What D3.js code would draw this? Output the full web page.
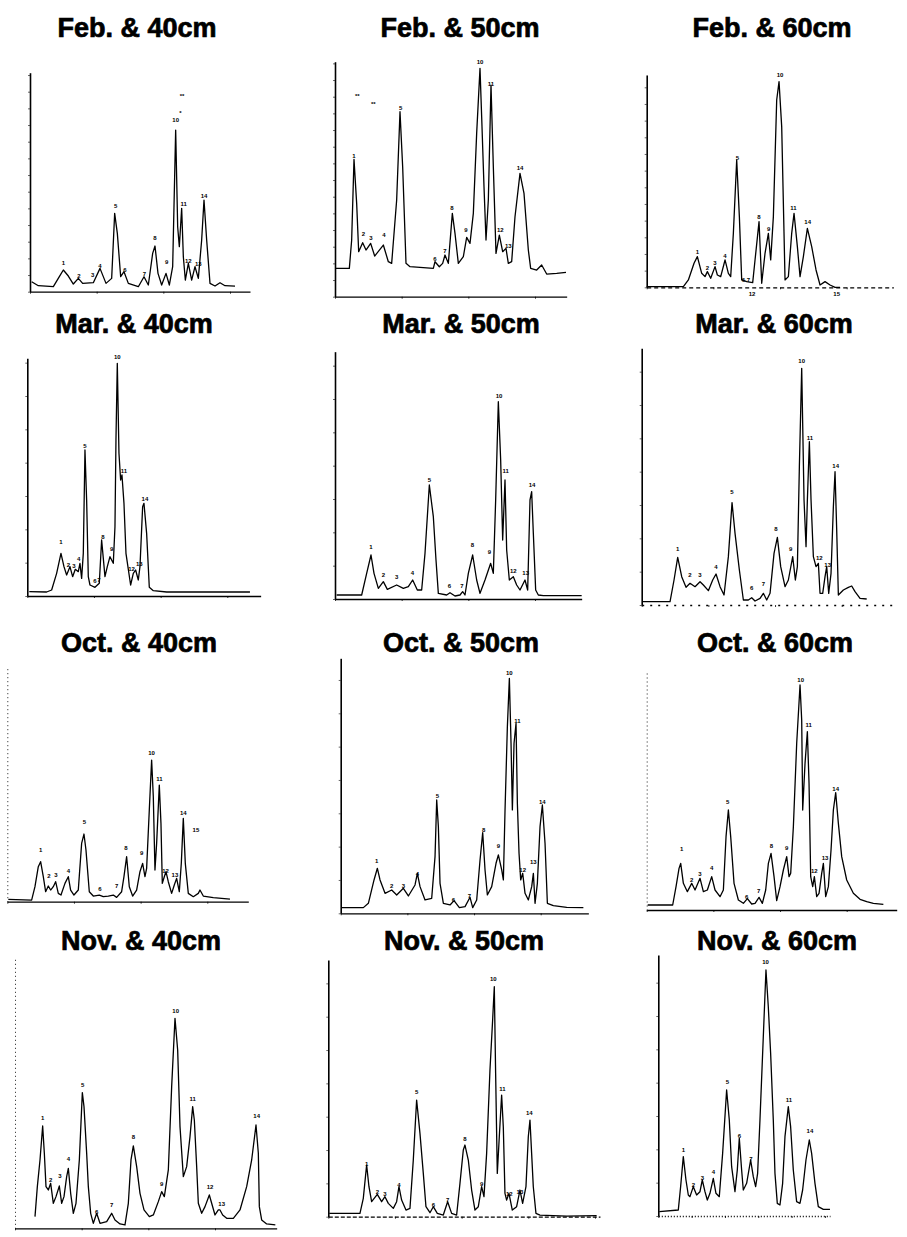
<!DOCTYPE html>
<html>
<head>
<meta charset="utf-8">
<script src="https://cdn.jsdelivr.net/npm/d3@7"></script>
<style>
  body { margin: 0; background: #fff; }
  .title { font-family: "Liberation Sans", Arial, sans-serif; font-weight: bold; font-size: 27px; fill: #000; stroke: #000; stroke-width: 0.7px; }
  .peak { font-family: "Liberation Sans", Arial, sans-serif; font-weight: bold; font-size: 6px; fill: #000; }
</style>
</head>
<body>
<div id="container"></div>
<script>
/* CONSTANTS AND GLOBALS */
const width = 907, height = 1237;
const unit = 10 / 3; // px per data unit, same for every panel

/* DATA : [retention time, signal] */
const months = ["Feb.", "Mar.", "Oct.", "Nov."];
const depths = ["40cm", "50cm", "60cm"];

// x max / y max of each panel's axes
const xMax = [66, 69.5, 74, 70, 74, 76, 72.3, 74.3, 75, 78.5, 81.5, 51.5];
const yMax = [65.7, 70.5, 63.7, 71.3, 74.2, 77, 70.5, 76.5, 72, 81, 77, 78.3];

const feb40 = [[0.5,3.0],[2.5,1.8],[7.0,1.5],[8.8,4.5],[10.0,6.5],[11.5,4.7],[13.0,2.3],[14.5,4.0],[15.8,2.5],[19.0,2.7],[21.0,7.0],[22.8,2.5],[24.5,4.0],[25.4,23.5],[26.2,17.5],[27.2,4.5],[28.2,6.0],[29.5,2.5],[32.5,1.5],[34.2,4.5],[35.5,2.0],[36.8,11.5],[37.5,13.7],[38.4,5.5],[39.5,2.0],[40.8,5.5],[41.8,2.0],[42.8,7.5],[43.7,48.5],[44.3,19.5],[44.8,13.5],[45.5,25.0],[46.0,10.5],[46.6,3.5],[47.5,8.5],[48.5,3.5],[49.5,7.5],[50.5,4.0],[51.5,15.5],[52.2,27.5],[53.0,15.5],[54.0,2.5],[55.5,1.7],[57.0,2.7],[58.5,1.8],[61.5,1.7]];
const feb40Peaks = [["1",10.0,8.5],["2",14.7,4.7],["3",18.8,4.9],["4",21.0,7.5],["5",25.7,25.5],["6",28.5,6.5],["7",34.3,5.3],["8",37.5,15.9],["9",41.0,8.7],["10",43.7,51.5],["*",45.1,53.5],["**",45.6,58.5],["11",46.1,26.3],["12",47.5,9.2],["13",50.5,8.2],["14",52.2,28.5]];

const feb50 = [[0,8.5],[4.3,8.5],[5.0,17.0],[5.7,41.2],[6.5,28.0],[7.1,13.5],[8.3,16.2],[9.3,14.0],[10.7,16.0],[11.9,12.2],[14.5,15.5],[16.0,10.5],[17.0,10.0],[18.5,29.0],[19.5,55.5],[20.3,39.0],[21.3,10.0],[22.5,9.0],[26.5,8.7],[29.5,8.5],[30.0,10.5],[31.3,9.0],[32.3,10.0],[33.0,12.5],[34.0,10.0],[35.2,25.0],[36.0,19.0],[37.0,10.0],[38.5,12.0],[39.5,17.8],[40.5,16.0],[41.5,25.0],[42.5,49.0],[43.5,68.5],[44.0,54.0],[44.7,33.0],[45.3,17.0],[46.0,29.0],[46.8,63.5],[47.5,39.0],[48.3,13.0],[49.3,18.5],[50.3,13.5],[51.3,14.5],[52.0,10.0],[53.0,10.5],[54.0,24.0],[55.5,37.0],[56.7,31.0],[58.0,14.0],[58.7,8.5],[60.5,8.0],[62.0,9.5],[63.5,6.8],[66.5,7.0],[69.3,7.3]];
const feb50Peaks = [["1",5.7,42.0],["2",8.5,18.7],["3",10.8,17.5],["4",14.7,18.4],["5",19.7,56.4],["6",30.0,11.2],["7",33.0,13.5],["8",35.1,26.4],["9",39.3,20.0],["10",43.5,70.3],["11",46.8,63.8],["12",49.6,20.0],["13",52.0,15.0],["14",55.5,38.5],["**",6.7,60.0],["**",11.5,57.7]];

const feb60 = [[0,0.2],[11.0,0.2],[12.5,2.2],[14.2,7.2],[15.2,9.2],[16.5,4.2],[17.5,3.2],[18.2,4.7],[19.2,2.7],[20.5,6.2],[21.2,3.7],[22.2,3.2],[23.5,8.2],[24.5,4.2],[25.2,3.2],[26.0,16.2],[27.0,38.2],[27.8,21.2],[28.5,2.2],[30.0,1.7],[31.8,1.4],[32.5,8.2],[33.7,19.7],[34.5,1.2],[35.5,10.2],[36.5,16.2],[37.2,8.2],[38.0,21.2],[39.0,56.2],[39.7,61.7],[40.5,48.2],[41.5,2.2],[42.5,3.2],[43.5,16.2],[44.2,22.2],[45.2,12.2],[46.0,3.2],[47.0,9.2],[48.2,17.7],[49.5,12.2],[50.8,5.2],[52.0,0.7],[53.5,1.7],[55.0,0.7],[56.5,0],[58.0,0]];
const feb60Peaks = [["1",15.2,10.5],["2",18.2,5.7],["3",20.5,7.2],["4",23.5,9.4],["5",27.2,38.7],["6",29.0,2.0],["7",30.5,2.0],["8",33.7,21.0],["9",36.6,17.4],["10",40.0,63.5],["11",44.0,23.7],["14",48.3,19.4],["12",31.6,-2.0],["15",57.0,-2.0]];

const mar40 = [[0.6,1.3],[5.8,1.2],[7.3,1.8],[8.8,6.8],[10.1,12.8],[11.0,8.8],[11.8,6.3],[12.8,8.8],[13.6,5.8],[14.4,8.0],[15.3,7.3],[15.8,9.8],[16.3,5.3],[16.8,12.8],[17.3,43.8],[17.8,28.8],[18.3,5.8],[18.8,3.3],[20.3,2.6],[21.6,3.8],[22.3,16.8],[23.3,5.8],[24.0,8.8],[24.8,11.8],[25.8,9.8],[26.3,20.8],[26.6,46.8],[27.0,69.8],[27.5,42.8],[28.0,34.8],[28.4,36.3],[29.0,27.8],[29.6,12.8],[31.0,3.3],[31.8,6.8],[32.5,7.8],[33.3,4.8],[33.8,8.8],[34.6,26.8],[35.0,27.8],[35.8,18.8],[36.6,2.6],[37.8,1.6],[41.8,1.2],[66.8,1.2]];
const mar40Peaks = [["1",10.1,16.0],["2",12.3,9.1],["3",14.0,9.0],["4",15.4,11.0],["5",17.3,44.8],["6",20.3,4.3],["7",21.5,4.8],["8",22.7,17.6],["9",25.3,14.1],["10",27.0,71.6],["11",29.0,37.5],["12",31.3,8.0],["13",33.6,9.4],["14",35.3,29.0]];

const mar50 = [[0.5,1.2],[8.0,1.2],[9.5,7.7],[10.8,13.2],[11.7,7.7],[13.0,3.2],[14.5,5.2],[15.7,2.9],[18.5,4.2],[20.5,3.2],[22.0,3.7],[23.3,5.7],[24.7,2.7],[26.0,2.7],[27.0,13.7],[28.3,34.2],[29.5,24.7],[30.3,11.7],[31.0,1.7],[33.5,1.2],[34.5,1.9],[36.0,0.9],[37.5,1.2],[38.3,2.2],[39.0,1.2],[40.0,7.7],[41.3,13.2],[42.5,5.7],[43.5,1.7],[45.0,5.7],[46.7,10.7],[47.5,7.7],[48.2,29.7],[49.0,59.2],[49.7,41.7],[50.3,17.7],[51.0,35.7],[51.5,14.7],[52.3,5.7],[53.5,6.7],[54.5,4.2],[55.5,2.7],[57.0,5.7],[57.8,2.7],[58.5,29.7],[59.0,32.2],[59.5,19.7],[60.2,2.7],[61.0,1.2],[62.5,1.0],[74.0,1.0]];
const mar50Peaks = [["1",10.8,15.5],["2",14.5,7.2],["3",18.5,6.4],["4",23.2,7.7],["5",28.3,35.7],["6",34.3,3.9],["7",38.1,3.7],["8",41.2,16.2],["9",46.3,14.0],["10",49.2,60.7],["11",51.2,38.2],["12",53.5,8.2],["13",57.2,7.7],["14",59.1,34.0]];

const mar60 = [[0.3,1.0],[8.5,1.0],[9.7,7.5],[10.8,14.3],[12.0,8.5],[13.3,5.3],[14.5,6.5],[16.0,5.5],[17.5,7.0],[18.5,6.0],[20.0,4.3],[21.3,7.5],[22.3,9.3],[23.5,5.5],[24.7,3.0],[26.0,14.5],[27.1,30.7],[28.0,21.5],[29.3,10.5],[30.5,1.5],[32.0,1.5],[33.0,2.2],[34.0,1.2],[35.5,2.0],[36.5,3.5],[37.5,1.5],[38.5,3.5],[39.7,15.5],[40.7,20.3],[41.7,11.5],[43.0,5.5],[44.0,7.5],[45.3,14.5],[46.1,7.5],[46.7,11.5],[47.3,41.5],[48.0,71.0],[48.7,31.5],[49.3,17.5],[49.7,31.5],[50.3,49.0],[50.8,31.5],[51.5,14.5],[52.3,11.5],[53.0,12.5],[53.5,3.5],[54.3,3.5],[55.0,8.5],[55.5,11.5],[56.1,3.5],[56.8,9.5],[57.5,29.5],[58.0,40.0],[58.5,22.5],[59.0,3.0],[60.5,4.5],[62.0,5.3],[63.0,5.7],[64.0,4.0],[65.5,2.0],[67.5,1.8]];
const mar60Peaks = [["1",10.8,16.7],["2",14.5,8.9],["3",17.5,8.9],["4",22.3,11.2],["5",27.1,33.7],["6",33.0,5.0],["7",36.5,6.3],["8",40.3,22.7],["9",44.7,16.7],["10",48.0,73.0],["11",50.5,50.1],["12",53.3,14.0],["13",55.8,12.0],["14",58.2,41.5]];

const oct40 = [[0.3,0.7],[7.3,0.5],[8.3,4.5],[9.3,10.5],[10.0,12.0],[10.8,7.5],[11.5,3.0],[12.3,4.7],[13.0,3.5],[13.8,4.5],[14.5,6.0],[15.3,2.5],[16.1,2.0],[17.3,5.5],[18.3,7.5],[19.0,3.5],[20.0,2.0],[21.3,3.5],[22.3,17.5],[23.0,20.3],[23.6,15.5],[24.6,3.0],[25.8,1.7],[27.6,2.0],[28.8,1.5],[30.3,1.7],[31.8,2.0],[32.8,1.3],[34.3,3.0],[35.0,7.5],[35.8,13.5],[36.6,4.5],[37.6,1.7],[38.8,3.5],[39.8,9.0],[40.6,11.5],[41.3,7.5],[41.8,10.0],[42.6,27.5],[43.3,42.5],[43.8,31.5],[44.3,9.5],[44.8,17.5],[45.6,35.0],[46.1,23.5],[46.5,5.5],[47.1,7.5],[47.6,9.0],[48.3,6.0],[49.3,2.5],[50.1,5.0],[50.8,7.0],[51.6,3.0],[52.2,11.5],[52.8,25.0],[53.4,11.5],[54.3,2.5],[55.8,1.5],[57.3,2.5],[57.8,3.5],[58.8,1.7],[61.8,1.2],[66.8,0.8]];
const oct40Peaks = [["1",10.0,15.3],["2",12.5,7.5],["3",14.6,8.0],["4",18.3,9.2],["5",23.1,23.7],["6",27.8,3.7],["7",32.8,4.5],["8",35.6,16.0],["9",40.3,14.5],["10",43.3,44.5],["11",45.6,36.7],["12",47.5,9.2],["13",50.3,8.0],["14",52.8,26.5],["15",56.6,21.3]];

const oct50 = [[0.3,1.7],[6.8,1.7],[8.3,3.0],[10.0,10.0],[11.0,13.5],[11.8,10.0],[13.3,6.0],[15.3,7.0],[16.8,5.5],[18.8,7.5],[20.3,5.2],[22.3,8.5],[23.0,12.0],[23.8,8.0],[25.3,4.0],[27.3,4.5],[28.3,17.0],[28.8,34.0],[29.3,26.0],[29.8,9.0],[30.8,3.0],[32.8,2.5],[34.0,3.8],[35.6,1.7],[37.3,2.0],[38.8,4.8],[39.6,1.7],[40.8,4.0],[41.8,16.0],[42.6,24.2],[43.3,13.0],[44.0,5.5],[45.3,8.0],[46.6,15.0],[47.3,17.5],[48.3,13.0],[48.8,10.0],[49.3,31.0],[50.0,56.0],[50.6,70.5],[51.1,51.0],[51.5,31.0],[52.0,51.0],[52.6,57.0],[53.0,33.0],[53.5,18.0],[54.0,10.0],[54.6,12.0],[55.3,6.0],[56.3,4.0],[57.3,8.0],[57.8,12.0],[58.3,3.0],[59.0,9.0],[59.8,26.0],[60.5,32.5],[61.3,21.0],[62.0,3.0],[63.8,2.3],[67.8,1.8],[72.8,1.7]];
const oct50Peaks = [["1",10.8,15.5],["2",15.3,8.2],["3",18.8,8.2],["4",23.0,11.8],["5",29.0,35.0],["6",33.8,3.8],["7",38.6,5.2],["8",42.9,25.0],["9",47.3,20.2],["10",50.6,72.0],["11",53.0,57.7],["12",54.6,13.0],["13",57.8,15.3],["14",60.5,33.3]];

const oct60 = [[0.3,1.5],[7.8,1.5],[8.8,7.0],[9.7,12.5],[10.2,14.0],[11.0,8.0],[12.2,5.5],[13.5,8.0],[14.5,6.0],[16.0,9.5],[17.0,5.5],[18.2,6.0],[19.5,10.0],[20.5,6.0],[22.0,4.0],[23.0,6.0],[23.8,22.0],[24.5,30.0],[25.2,22.0],[26.2,8.0],[27.5,3.0],[29.0,2.0],[30.2,3.4],[31.5,1.8],[32.5,2.0],[33.7,3.8],[34.7,2.0],[35.7,6.0],[36.5,14.0],[37.3,17.0],[38.2,10.0],[39.0,2.8],[40.0,7.0],[41.0,12.0],[42.0,16.0],[42.7,10.0],[43.2,11.0],[44.0,25.0],[45.0,50.0],[46.0,67.5],[46.5,57.0],[46.8,30.0],[47.5,44.0],[48.2,53.5],[48.7,38.0],[49.2,10.0],[49.8,7.0],[50.3,10.0],[51.0,4.0],[51.7,5.0],[52.5,11.0],[53.0,14.0],[53.7,4.0],[54.5,7.0],[55.3,18.0],[56.0,30.0],[56.7,35.2],[57.5,26.0],[58.5,16.0],[60.0,9.0],[62.0,5.0],[64.0,3.2],[66.0,2.5],[68.0,2.0],[71.0,1.7]];
const oct60Peaks = [["1",10.5,18.2],["2",13.5,9.0],["3",16.0,10.7],["4",19.5,12.5],["5",24.3,32.3],["6",30.0,3.8],["7",33.6,5.5],["8",37.4,19.2],["9",42.0,18.4],["10",46.2,68.8],["11",48.6,55.5],["12",50.3,11.5],["13",53.5,15.5],["14",56.7,36.3]];

const nov40 = [[6.0,3.5],[6.7,12.5],[7.5,20.5],[8.3,30.7],[8.8,22.5],[9.3,12.5],[10.0,11.5],[10.7,13.5],[11.5,7.5],[12.3,9.5],[13.3,12.7],[14.0,7.5],[14.7,9.5],[15.5,15.5],[16.0,18.0],[16.7,10.5],[17.5,4.5],[18.3,7.5],[19.3,20.5],[20.2,40.7],[20.7,36.5],[21.5,22.5],[22.0,12.5],[22.7,4.5],[23.5,1.5],[24.5,4.5],[25.5,1.5],[27.5,2.0],[29.0,4.5],[30.0,2.5],[31.5,1.3],[33.0,1.0],[34.0,7.5],[34.8,20.5],[35.5,24.7],[36.5,18.5],[37.5,10.5],[38.7,5.5],[40.3,3.5],[41.5,4.0],[43.0,8.0],[44.0,11.0],[44.8,9.5],[46.0,17.5],[47.0,42.5],[48.0,63.0],[48.8,53.5],[49.5,30.5],[50.5,15.5],[51.5,18.5],[52.5,27.5],[53.3,36.5],[53.8,32.5],[54.5,18.5],[55.0,7.5],[56.0,4.5],[57.0,6.5],[58.3,10.0],[59.0,7.5],[60.0,4.0],[61.0,5.5],[61.5,5.5],[62.3,4.0],[63.5,3.0],[65.5,3.0],[67.5,5.5],[69.5,12.5],[71.0,20.5],[72.3,31.0],[73.0,22.5],[73.3,6.5],[74.0,2.5],[75.5,1.3],[78.1,1.0]];
const nov40Peaks = [["1",8.3,33.0],["2",10.7,14.3],["3",13.5,15.5],["4",16.0,20.7],["5",20.3,43.0],["6",24.5,4.8],["7",29.0,7.0],["8",35.5,27.2],["9",44.0,13.2],["10",48.2,65.0],["11",53.3,38.7],["12",58.5,12.2],["13",62.0,7.3],["14",72.5,33.5]];

const nov50 = [[0.3,1.0],[9.5,1.0],[10.5,5.5],[11.5,15.5],[12.2,9.0],[13.0,4.5],[14.7,6.7],[16.0,4.5],[17.0,6.0],[18.0,4.0],[19.5,2.5],[20.5,4.5],[21.2,9.0],[22.0,5.0],[23.3,2.0],[24.5,2.5],[25.5,17.0],[26.5,35.0],[27.5,25.0],[28.5,13.0],[29.3,3.0],[30.5,1.2],[31.5,3.0],[32.7,1.0],[34.5,0.5],[35.8,4.5],[37.0,1.0],[38.5,0.5],[39.5,10.0],[40.5,20.0],[41.0,21.5],[42.0,17.0],[43.0,8.0],[44.0,2.0],[45.0,3.0],[46.0,9.0],[46.7,6.0],[47.5,19.0],[48.5,44.0],[49.3,59.0],[49.8,69.0],[50.2,43.0],[50.7,13.0],[51.3,24.0],[52.0,36.5],[52.5,27.0],[53.0,7.0],[53.5,5.0],[54.2,7.0],[55.2,2.0],[56.5,3.0],[57.5,8.0],[58.3,4.0],[59.3,9.0],[60.0,24.0],[60.5,29.0],[61.0,19.0],[61.5,9.0],[62.3,1.0],[63.5,0.5],[71.5,0.2],[80.5,0.3]];
const nov50Peaks = [["1",11.5,15.7],["2",14.7,7.3],["3",17.0,6.7],["4",21.2,9.5],["5",26.5,37.3],["6",31.5,3.3],["7",35.8,4.8],["8",41.0,23.3],["9",46.0,9.7],["10",49.5,71.3],["11",52.2,38.3],["12",54.3,6.8],["13",57.5,7.2],["14",60.3,31.0]];

const nov60 = [[0.3,1.3],[6.0,1.8],[6.7,8.8],[7.5,17.8],[8.3,10.8],[9.0,6.3],[9.5,5.8],[10.5,8.8],[11.5,6.3],[12.5,7.3],[13.2,10.8],[14.0,7.3],[14.7,4.8],[15.5,6.8],[16.5,11.3],[17.3,6.8],[18.3,5.8],[19.3,18.8],[20.5,37.8],[21.3,28.8],[22.0,14.8],[23.0,7.3],[23.7,13.8],[24.3,23.3],[25.0,13.8],[25.5,7.8],[26.5,9.8],[27.7,16.8],[28.5,11.8],[29.2,8.8],[29.8,12.8],[30.5,28.8],[31.5,53.8],[32.3,73.8],[33.0,62.8],[33.7,48.8],[34.5,28.8],[35.0,12.8],[35.7,3.8],[36.5,3.3],[37.3,9.8],[38.0,23.8],[39.0,32.8],[39.7,26.8],[40.5,13.8],[41.5,4.3],[42.5,3.8],[43.3,7.8],[44.3,16.8],[45.3,22.8],[46.0,18.8],[47.0,9.8],[48.0,2.8],[49.5,2.0],[51.5,2.0]];
const nov60Peaks = [["1",7.5,19.8],["2",10.5,9.3],["3",13.2,11.3],["4",16.5,13.0],["5",20.7,40.1],["6",24.3,24.0],["7",27.8,17.0],["10",32.2,76.0],["11",39.2,34.8],["14",45.5,25.5]];

const traces = [feb40, feb50, feb60, mar40, mar50, mar60, oct40, oct50, oct60, nov40, nov50, nov60];
const peaks = [feb40Peaks, feb50Peaks, feb60Peaks, mar40Peaks, mar50Peaks, mar60Peaks, oct40Peaks, oct50Peaks, oct60Peaks, nov40Peaks, nov50Peaks, nov60Peaks];

/* LAYOUT : where each panel's origin sits, title centre and axis styles */
const origin = [[30,291.7],[335,296.7],[646.7,287.3],[27.3,596],[335,599],[641.7,605],[7.3,901.7],[340.7,913.3],[646.7,910],[15,1228.3],[328.3,1216.7],[658.3,1216]];
const titleX = [137, 460, 772, 134, 461, 774, 139, 461, 775, 141, 464, 777];
const titleY = [36.5, 333, 651.5, 950];
const yAxisDash = [null, null, null, null, null, null, "1,3", null, "1,3", "1,3", null, null];
const xAxisDash = [null, null, "4,3", null, null, "2,6", null, null, null, null, "4,2", "1,2"];

const svg = d3.select("#container").append("svg")
  .attr("width", width)
  .attr("height", height)
  .style("background-color", "#fff");

const line = d3.line();

traces.forEach((trace, i) => {
  const [ox, oy] = origin[i];
  const xScale = d3.scaleLinear().domain([0, xMax[i]]).range([ox, ox + xMax[i] * unit]);
  const yScale = d3.scaleLinear().domain([0, yMax[i]]).range([oy, oy - yMax[i] * unit]);

  const g = svg.append("g").attr("class", "panel");

  // title
  g.append("text")
    .attr("class", "title")
    .attr("x", titleX[i])
    .attr("y", titleY[Math.floor(i / 3)])
    .attr("text-anchor", "middle")
    .text(months[Math.floor(i / 3)] + " & " + depths[i % 3]);

  // axes
  const xAxis = d3.axisBottom(xScale).ticks(4).tickSize(2).tickSizeOuter(0).tickFormat("");
  const yAxis = d3.axisLeft(yScale).ticks(10).tickSize(2).tickSizeOuter(0).tickFormat("");

  const gx = g.append("g").attr("transform", `translate(0,${oy})`).call(xAxis);
  const gy = g.append("g").attr("transform", `translate(${ox},0)`).call(yAxis);

  gx.select(".domain").attr("stroke-width", 1.3).attr("stroke-dasharray", xAxisDash[i]);
  gy.select(".domain").attr("stroke-width", yAxisDash[i] ? 0.9 : 1.6).attr("stroke-dasharray", yAxisDash[i]);
  gx.selectAll(".tick line").attr("stroke-width", 0.8);
  gy.selectAll(".tick line").attr("stroke-width", 0.6);
  if (yAxisDash[i]) gy.selectAll(".tick").remove();

  // chromatogram trace
  line.x(d => xScale(d[0])).y(d => yScale(d[1]));
  g.append("path")
    .datum(trace)
    .attr("d", line)
    .attr("fill", "none")
    .attr("stroke", "#000")
    .attr("stroke-width", 1.3)
    .attr("stroke-linejoin", "round");

  // peak numbers
  g.selectAll("text.peak")
    .data(peaks[i])
    .join("text")
    .attr("class", "peak")
    .attr("x", d => xScale(d[1]))
    .attr("y", d => yScale(d[2]))
    .attr("text-anchor", "middle")
    .attr("dominant-baseline", "middle")
    .text(d => d[0]);
});
</script>
</body>
</html>
